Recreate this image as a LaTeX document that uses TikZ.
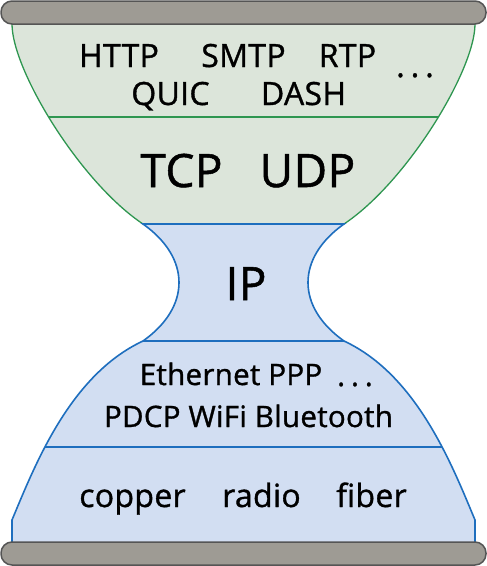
\documentclass[tikz,border=0pt]{standalone}
\usepackage{fontspec}
\setmainfont{Open Sans}[FakeBold=1.1,LetterSpace=1]
\definecolor{verdefondo}{RGB}{220,229,218}
\definecolor{verdelinea}{RGB}{46,150,80}
\definecolor{azulfondo}{RGB}{210,222,242}
\definecolor{azullinea}{RGB}{30,110,190}
\definecolor{grisfondo}{RGB}{158,155,148}
\definecolor{grislinea}{RGB}{85,85,85}
\tikzset{
  capaverde/.style={fill=verdefondo,draw=verdelinea,line width=1.3pt},
  capaazul/.style={fill=azulfondo,draw=azullinea,line width=1.6pt},
  barra/.style={fill=grisfondo,draw=grislinea,line width=1.5pt,rounded corners=11pt},
  chico/.style={anchor=base,font=\fontsize{32}{32}\selectfont},
  grande/.style={anchor=base,font=\fontsize{46}{46}\selectfont},
  enlace/.style={anchor=base,font=\fontsize{29.5}{29.5}\selectfont},
}
\newcommand{\puntos}{.\hspace{6pt}.\hspace{6pt}.}
\begin{document}
\begin{tikzpicture}[x=1pt,y=-1pt]
    \useasboundingbox (0,0) rectangle (487,566);
    % Parte superior (aplicacion y transporte)
    \filldraw[capaverde] (12,18) -- (12,24) .. controls (12,70) and (80,182) .. (143,224)
        -- (344,224) .. controls (407,182) and (475,70) .. (475,24) -- (475,18) -- cycle;
    \begin{scope}
        \clip (12,24) .. controls (12,70) and (80,182) .. (143,224)
            -- (344,224) .. controls (407,182) and (475,70) .. (475,24) -- cycle;
        \draw[verdelinea,line width=1.3pt] (0,117) -- (487,117);
    \end{scope}
    % Cuello y parte inferior (red, enlace, fisica)
    \filldraw[capaazul] (143,224) .. controls (191,258) and (191,307) .. (143,341)
        .. controls (70,375) and (35,465) .. (12,520) -- (12,548) -- (475,548) -- (475,520)
        .. controls (452,465) and (417,375) .. (344,341)
        .. controls (296,307) and (296,258) .. (344,224) -- cycle;
    \begin{scope}
        \clip (143,224) .. controls (191,258) and (191,307) .. (143,341)
            .. controls (70,375) and (35,465) .. (12,520) -- (12,548) -- (475,548) -- (475,520)
            .. controls (452,465) and (417,375) .. (344,341)
            .. controls (296,307) and (296,258) .. (344,224) -- cycle;
        \draw[azullinea,line width=1.6pt] (0,341) -- (487,341);
        \draw[azullinea,line width=1.6pt] (0,447) -- (487,447);
    \end{scope}
    % Barras
    \filldraw[barra] (1,1) rectangle (486,24);
    \filldraw[barra] (1,542) rectangle (486,565);
    % Textos
    \node[chico] (http) at (119,67) {HTTP};
    \node[chico] (smtp) at (243.5,67) {SMTP};
    \node[chico] (rtp) at (347.5,67) {RTP};
    \node[chico] (masapp) at (415,77) {\puntos};
    \node[chico] (quic) at (170.5,105) {QUIC};
    \node[chico] (dash) at (303.5,105) {DASH};
    \node[grande] (tcp) at (181.5,187) {TCP};
    \node[grande] (udp) at (307.5,187) {UDP};
    \node[grande] (ip) at (246,300) {IP};
    \node[enlace] (ethppp) at (231,385) {Ethernet PPP};
    \node[enlace] (masenl) at (355,386) {\puntos};
    \node[enlace] (pdcp) at (248.5,427) {PDCP WiFi Bluetooth};
    \node[chico] (cobre) at (132.5,507) {copper};
    \node[chico] (radio) at (261.5,507) {radio};
    \node[chico] (fibra) at (371.5,507) {fiber};
\end{tikzpicture}
\end{document}
